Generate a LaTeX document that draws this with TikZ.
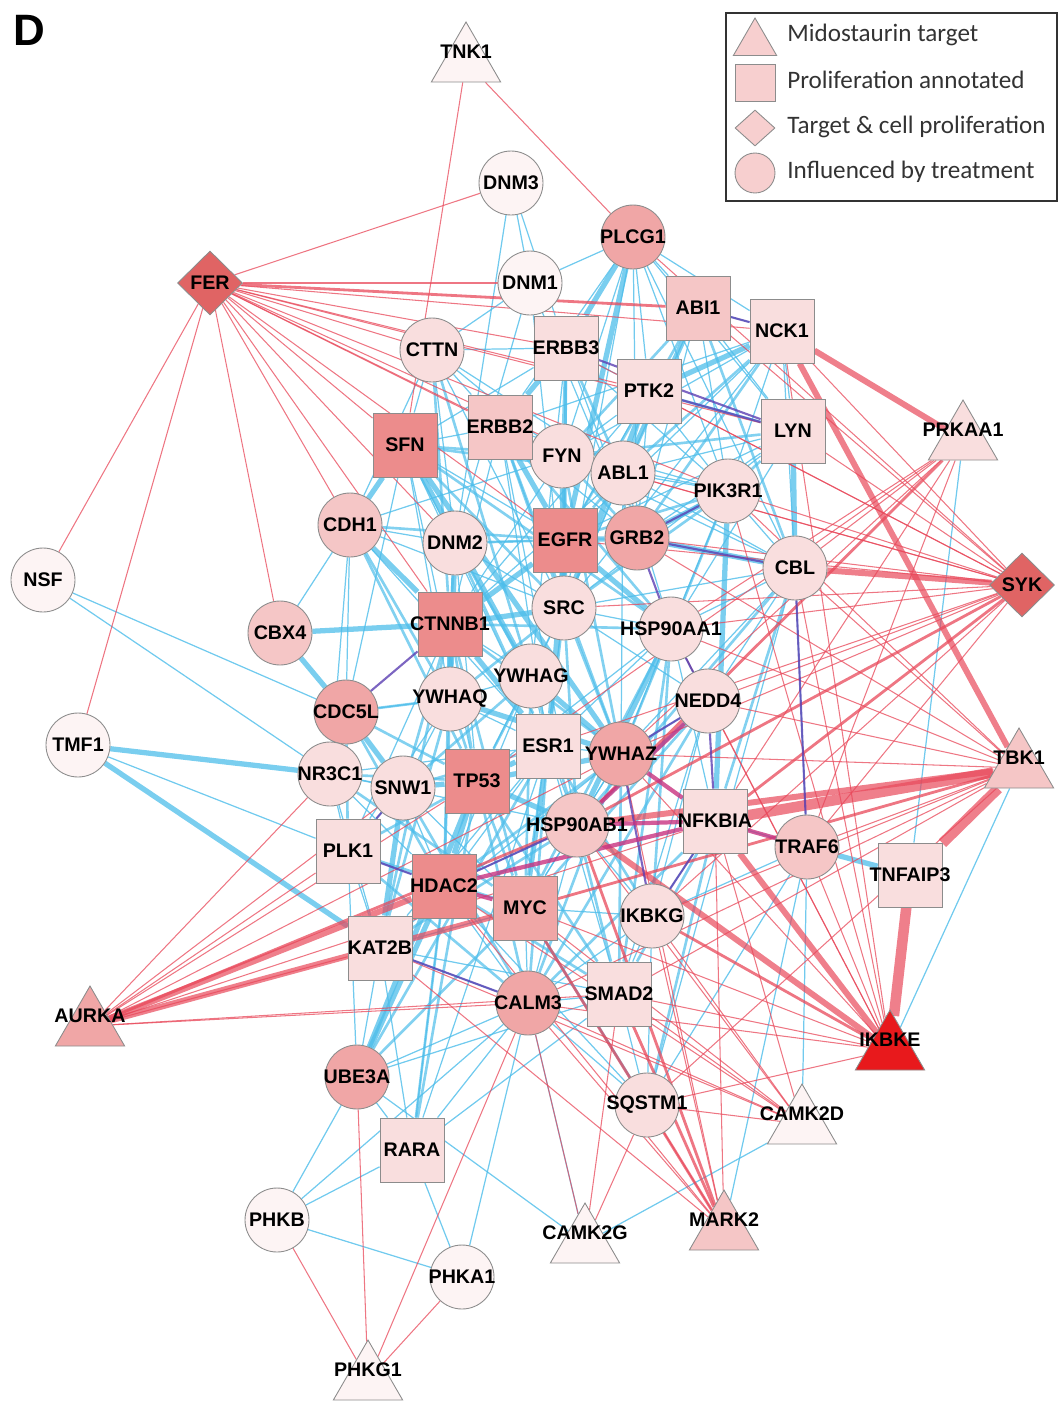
\documentclass[tikz,border=0pt]{standalone}
\usepackage{fontspec}
\setmainfont{Liberation Sans}
\newfontfamily\legendfont{Carlito}
\usetikzlibrary{shapes.geometric}
\pgfdeclarelayer{background}
\pgfsetlayers{background,main}

\definecolor{edgered}{HTML}{E8485A}
\definecolor{edgeblue}{HTML}{4DBDEA}
\definecolor{edgepurple}{HTML}{5B3FB2}
\definecolor{edgemagenta}{HTML}{C8327F}
\definecolor{nodeA}{HTML}{FDF4F4}
\definecolor{nodeB}{HTML}{F9DEDE}
\definecolor{nodeC}{HTML}{F5C6C6}
\definecolor{nodeD}{HTML}{F0A6A6}
\definecolor{nodeE}{HTML}{EC8C8C}
\definecolor{nodeF}{HTML}{E06464}
\definecolor{nodeG}{HTML}{E8191C}
\definecolor{legendfill}{HTML}{F7CFCF}

\begin{document}
\begin{tikzpicture}[x=0.02cm, y=-0.02cm,
    circ/.style={circle, draw=black!45, line width=0.5pt, minimum size=1.28cm, inner sep=0pt},
    sq/.style={rectangle, draw=black!45, line width=0.5pt, minimum size=1.28cm, inner sep=0pt},
    dia/.style={diamond, draw=black!45, line width=0.5pt, minimum width=1.3cm, minimum height=1.28cm, inner sep=0pt},
    tri/.style={regular polygon, regular polygon sides=3, draw=black!45, line width=0.5pt, minimum size=1.6cm, inner sep=0pt},
    lbl/.style={font=\fontsize{11.2}{12}\selectfont\bfseries, inner sep=0pt, text=black},
    lgtext/.style={font=\legendfont\fontsize{14.3}{15}\selectfont, text=black!80, inner sep=0pt, anchor=west},
    bthin/.style={draw=edgeblue, draw opacity=0.8, line width=0.7pt},
    bmid/.style={draw=edgeblue, draw opacity=0.7, line width=1.5pt},
    bthick/.style={draw=edgeblue, draw opacity=0.75, line width=3pt},
    rthin/.style={draw=edgered, draw opacity=0.75, line width=0.6pt},
    rmid/.style={draw=edgered, draw opacity=0.75, line width=1.6pt},
    rthick/.style={draw=edgered, draw opacity=0.7, line width=3.4pt},
    rhuge/.style={draw=edgered, draw opacity=0.7, line width=6pt},
    pline/.style={draw=edgepurple, draw opacity=0.8, line width=1.2pt},
    mline/.style={draw=edgemagenta, draw opacity=0.8, line width=2.4pt}]

    % fix the page to the size of the figure
    \useasboundingbox (0,0) rectangle (1061,1403);

    % panel letter
    \node[font=\fontsize{25}{25}\selectfont\bfseries, inner sep=0pt] (panel) at (29,30) {D};

    % proteins influenced by treatment (circles)
    \foreach \n/\x/\y/\c in {
        DNM3/511/183/nodeA, PLCG1/633/237/nodeD, DNM1/530/283/nodeA,
        CTTN/432/350/nodeB, FYN/562/456/nodeB, ABL1/623/473/nodeB,
        PIK3R1/728/491/nodeB, CDH1/350/525/nodeC, DNM2/455/543/nodeB,
        GRB2/637/538/nodeD, CBL/795/568/nodeB, NSF/43/580/nodeA,
        CBX4/280/633/nodeC, SRC/564/608/nodeB, HSP90AA1/671/629/nodeB,
        YWHAG/531/676/nodeB, YWHAQ/450/699/nodeB, CDC5L/346/712/nodeD,
        NEDD4/708/701/nodeB, TMF1/78/745/nodeA, YWHAZ/621/754/nodeD,
        NR3C1/330/774/nodeB, SNW1/403/788/nodeB, HSP90AB1/577/825/nodeC,
        TRAF6/807/847/nodeC, IKBKG/652/916/nodeB, CALM3/528/1003/nodeD,
        UBE3A/357/1077/nodeD, SQSTM1/647/1105/nodeB, PHKB/277/1220/nodeA,
        PHKA1/462/1277/nodeA}{
        \node[circ, fill=\c, label={[lbl]center:\n}] (\n) at (\x,\y) {};
    }

    % proliferation annotated (squares)
    \foreach \n/\x/\y/\c in {
        ABI1/698/308/nodeC, ERBB3/566/348/nodeB, NCK1/782/331/nodeB,
        PTK2/649/391/nodeB, LYN/793/431/nodeB, SFN/405/445/nodeE,
        ERBB2/500/427/nodeC, EGFR/565/540/nodeE, CTNNB1/450/624/nodeE,
        ESR1/548/746/nodeB, TP53/477/781/nodeE, NFKBIA/715/821/nodeB,
        PLK1/348/851/nodeB, HDAC2/444/886/nodeE, MYC/525/908/nodeD,
        TNFAIP3/910/875/nodeB, KAT2B/380/948/nodeB, SMAD2/619/994/nodeB,
        RARA/412/1150/nodeB}{
        \node[sq, fill=\c, label={[lbl]center:\n}] (\n) at (\x,\y) {};
    }

    % target and proliferation (diamonds)
    \foreach \n/\x/\y in {FER/210/283, SYK/1022/585}{
        \node[dia, fill=nodeF, label={[lbl]center:\n}] (\n) at (\x,\y) {};
    }

    % midostaurin targets (triangles), label at mid height
    \foreach \n/\x/\y/\c in {
        TNK1/466/52/nodeA, PRKAA1/963/430/nodeB, TBK1/1019/758/nodeC,
        AURKA/90/1016/nodeD, IKBKE/890/1040/nodeG, CAMK2D/802/1114/nodeA,
        MARK2/724/1220/nodeC, CAMK2G/585/1233/nodeA, PHKG1/368/1370/nodeA}{
        \node[tri, fill=\c, label={[lbl, yshift=0.2cm]center:\n}] (\n) at (\x,\y+10) {};
    }

    \begin{pgfonlayer}{background}
    % thin blue interactions
    \foreach \a/\b in {
        PLCG1/ABI1, PLCG1/NCK1, PLCG1/PTK2, PLCG1/GRB2, PLCG1/SRC, PLCG1/CBL,
        PLCG1/LYN, PLCG1/ERBB2, PLCG1/DNM1, PLCG1/FYN, PLCG1/PIK3R1, DNM3/DNM1,
        DNM3/ERBB3, DNM3/DNM2, DNM1/DNM2, DNM1/CTTN, DNM1/GRB2, DNM1/SRC,
        CTTN/SRC, CTTN/SFN, CTTN/ERBB2, CTTN/ABL1, CTTN/FYN, CTTN/DNM2,
        CTTN/CDH1, CTTN/ERBB3, ERBB3/PTK2, ERBB3/PIK3R1, ERBB3/GRB2, ERBB3/SFN,
        ERBB3/YWHAG, ABI1/NCK1, ABI1/SRC, ABI1/LYN, ABI1/PIK3R1, ABI1/GRB2,
        NCK1/EGFR, NCK1/CBL, NCK1/ERBB2, NCK1/PIK3R1, NCK1/FYN, NCK1/SRC,
        NCK1/LYN, LYN/SRC, LYN/EGFR, LYN/GRB2, LYN/HSP90AA1, LYN/ABL1,
        PTK2/FYN, PTK2/GRB2, PTK2/EGFR, PTK2/CTNNB1, PTK2/PIK3R1, SFN/ERBB2,
        SFN/DNM2, SFN/YWHAQ, SFN/EGFR, SFN/ESR1, SFN/CDC5L, SFN/TP53,
        ERBB2/FYN, ERBB2/GRB2, ERBB2/PIK3R1, ERBB2/CTNNB1, ERBB2/ESR1, ERBB2/HSP90AB1,
        FYN/ABL1, FYN/PIK3R1, FYN/CBL, FYN/CTNNB1, FYN/CDH1, ABL1/PIK3R1,
        ABL1/CBL, ABL1/CTNNB1, ABL1/YWHAZ, ABL1/HSP90AA1, PIK3R1/CBL, PIK3R1/HSP90AA1,
        CDH1/DNM2, CDH1/CDC5L, CDH1/CBX4, CDH1/SRC, CDH1/ESR1, CDH1/NR3C1,
        DNM2/SRC, DNM2/GRB2, DNM2/TP53, CBL/HSP90AA1, CBL/NEDD4, CBL/YWHAZ,
        CBL/TRAF6, CBL/SQSTM1, CBL/SRC, SRC/HSP90AA1, SRC/YWHAG, SRC/NEDD4,
        SRC/MYC, SRC/TP53, HSP90AA1/NEDD4, HSP90AA1/YWHAZ, HSP90AA1/TP53, HSP90AA1/NFKBIA,
        HSP90AA1/ESR1, YWHAG/YWHAQ, YWHAG/ESR1, YWHAG/CTNNB1, YWHAG/HDAC2, YWHAQ/CDC5L,
        YWHAQ/SNW1, YWHAQ/ESR1, YWHAQ/PLK1, NEDD4/YWHAZ, NEDD4/IKBKG, NEDD4/SMAD2,
        ESR1/YWHAZ, ESR1/HSP90AB1, ESR1/HDAC2, ESR1/KAT2B, ESR1/NR3C1, ESR1/SMAD2,
        YWHAZ/HSP90AB1, YWHAZ/MYC, YWHAZ/KAT2B, NR3C1/SNW1, NR3C1/PLK1, NR3C1/HDAC2,
        NR3C1/KAT2B, NR3C1/HSP90AB1, SNW1/PLK1, SNW1/HDAC2, SNW1/MYC, HSP90AB1/MYC,
        HSP90AB1/IKBKG, HSP90AB1/HDAC2, HSP90AB1/CALM3, PLK1/HDAC2, PLK1/KAT2B, PLK1/UBE3A,
        PLK1/CTNNB1, HDAC2/KAT2B, HDAC2/CALM3, MYC/CALM3, MYC/SMAD2, MYC/IKBKG,
        MYC/KAT2B, KAT2B/CALM3, KAT2B/SMAD2, KAT2B/UBE3A, KAT2B/RARA, CALM3/SMAD2,
        CALM3/IKBKG, CALM3/UBE3A, CALM3/SQSTM1, CALM3/RARA, CALM3/PHKB, CALM3/PHKA1,
        CALM3/CAMK2G, SMAD2/SQSTM1, SMAD2/IKBKG, IKBKG/NFKBIA, IKBKG/TRAF6, NFKBIA/TRAF6,
        TRAF6/SQSTM1, UBE3A/PHKB, UBE3A/RARA, UBE3A/SMAD2, RARA/PHKA1, RARA/HDAC2,
        RARA/ESR1, RARA/SMAD2, PHKB/PHKA1, PHKB/RARA, CAMK2G/CAMK2D, CAMK2G/UBE3A,
        SQSTM1/IKBKG, SQSTM1/HDAC2, SQSTM1/MYC, NSF/CDC5L, NSF/NR3C1, TMF1/PLK1,
        PRKAA1/TNFAIP3, TBK1/IKBKE, MARK2/TRAF6, CAMK2D/TRAF6}{
        \draw[bthin] (\a) -- (\b);
    }

    % medium blue interactions in the core
    \foreach \a/\b in {
        CTTN/CTNNB1, CTTN/YWHAG, SFN/SRC, SFN/HSP90AA1, SFN/ABL1, SFN/FYN,
        ERBB2/SRC, ERBB2/YWHAZ, ERBB2/HSP90AA1, ERBB3/SRC, ERBB3/EGFR, ERBB3/FYN,
        ERBB3/ABL1, PTK2/ABL1, PTK2/LYN, ABI1/EGFR, ABI1/CBL, ABI1/FYN,
        NCK1/GRB2, NCK1/ABL1, LYN/FYN, LYN/PIK3R1, FYN/GRB2, FYN/EGFR,
        FYN/YWHAZ, ABL1/SRC, ABL1/EGFR, ABL1/GRB2, PIK3R1/SRC, PIK3R1/EGFR,
        PIK3R1/YWHAZ, CBL/HSP90AB1, CBL/NFKBIA, CDH1/YWHAQ, CDH1/TP53, CDH1/EGFR,
        DNM2/CTNNB1, DNM2/EGFR, DNM2/YWHAG, DNM2/ESR1, CTNNB1/YWHAZ, CTNNB1/TP53,
        CTNNB1/HSP90AA1, CTNNB1/SNW1, CTNNB1/MYC, CTNNB1/HDAC2, CTNNB1/KAT2B, SRC/ESR1,
        SRC/YWHAZ, SRC/HSP90AB1, SRC/YWHAQ, HSP90AA1/MYC, HSP90AA1/IKBKG, HSP90AA1/SMAD2,
        YWHAG/TP53, YWHAG/HSP90AB1, YWHAG/MYC, YWHAG/SNW1, YWHAQ/TP53, YWHAQ/HDAC2,
        YWHAQ/KAT2B, CDC5L/YWHAQ, CDC5L/TP53, CDC5L/PLK1, CDC5L/HDAC2, NEDD4/HSP90AB1,
        NEDD4/MYC, NEDD4/CALM3, ESR1/CALM3, ESR1/IKBKG, YWHAZ/HDAC2, YWHAZ/CALM3,
        YWHAZ/SMAD2, NR3C1/TP53, NR3C1/MYC, SNW1/ESR1, SNW1/CALM3, TP53/MYC,
        TP53/CALM3, TP53/SMAD2, TP53/PLK1, TP53/RARA, HSP90AB1/SMAD2, HSP90AB1/KAT2B,
        PLK1/MYC, PLK1/CALM3, HDAC2/SMAD2, HDAC2/RARA, MYC/UBE3A, MYC/SQSTM1,
        UBE3A/ESR1, SQSTM1/NFKBIA, SMAD2/NFKBIA, CALM3/NFKBIA}{
        \draw[bmid] (\a) -- (\b);
    }

    % strong blue interactions
    \foreach \a/\b in {
        EGFR/GRB2, EGFR/ERBB2, EGFR/SRC, EGFR/PLCG1, EGFR/ESR1, EGFR/CTNNB1,
        GRB2/PIK3R1, GRB2/CBL, SRC/PTK2, SRC/FYN, SRC/CTNNB1, TP53/HDAC2,
        TP53/HSP90AB1, TP53/ESR1, TP53/SNW1, TP53/YWHAZ, CTNNB1/CDH1, CTNNB1/CBX4,
        CTNNB1/YWHAQ, CTNNB1/ESR1, YWHAZ/YWHAG, SFN/YWHAZ, SFN/YWHAG, HSP90AA1/HSP90AB1,
        CDC5L/CBX4, CDC5L/SNW1, TMF1/NR3C1, TMF1/KAT2B, UBE3A/TP53, UBE3A/HDAC2,
        PLCG1/ERBB3, LYN/CBL, PIK3R1/NFKBIA, TRAF6/TNFAIP3, ABI1/ABL1, NCK1/PTK2,
        ERBB2/ERBB3, ESR1/MYC, KAT2B/SNW1, CDH1/SFN, DNM2/YWHAQ, EGFR/HSP90AA1,
        YWHAQ/YWHAZ}{
        \draw[bthick] (\a) -- (\b);
    }

    % thin red interactions
    \foreach \a/\b in {
        FER/DNM3, FER/CTTN, FER/ERBB3, FER/NCK1, FER/PTK2, FER/SFN,
        FER/ERBB2, FER/FYN, FER/DNM2, FER/CTNNB1, FER/CDH1, FER/CBX4,
        FER/NSF, FER/TMF1, FER/EGFR, FER/LYN, FER/PIK3R1, FER/ABL1,
        TNK1/SFN, TNK1/PLCG1, SYK/NCK1, SYK/ABI1, SYK/PTK2, SYK/ERBB3,
        SYK/LYN, SYK/PIK3R1, SYK/GRB2, SYK/FYN, SYK/EGFR, SYK/SRC,
        SYK/HSP90AA1, SYK/NEDD4, SYK/YWHAZ, SYK/ESR1, SYK/TRAF6, SYK/IKBKG,
        SYK/PLCG1, SYK/ABL1, PRKAA1/YWHAZ, PRKAA1/HSP90AA1, PRKAA1/TP53, PRKAA1/NFKBIA,
        PRKAA1/CBL, PRKAA1/TRAF6, TBK1/TRAF6, TBK1/IKBKG, TBK1/NEDD4, TBK1/HSP90AA1,
        TBK1/PIK3R1, TBK1/CBL, TBK1/SMAD2, TBK1/CALM3, TBK1/YWHAZ, TBK1/SQSTM1,
        TBK1/GRB2, IKBKE/TRAF6, IKBKE/SMAD2, IKBKE/CALM3, IKBKE/NCK1, IKBKE/PIK3R1,
        IKBKE/CBL, IKBKE/NEDD4, IKBKE/YWHAZ, IKBKE/HSP90AA1, IKBKE/SQSTM1, IKBKE/MYC,
        AURKA/KAT2B, AURKA/PLK1, AURKA/NR3C1, AURKA/CALM3, AURKA/SNW1, AURKA/NFKBIA,
        AURKA/SMAD2, AURKA/YWHAZ, AURKA/TP53, MARK2/SQSTM1, MARK2/CALM3, MARK2/YWHAZ,
        MARK2/NFKBIA, MARK2/HDAC2, MARK2/KAT2B, MARK2/IKBKG, CAMK2D/CALM3, CAMK2D/SMAD2,
        CAMK2D/SQSTM1, CAMK2D/IKBKG, CAMK2D/HSP90AB1, CAMK2D/NFKBIA, CAMK2D/MYC, CAMK2D/KAT2B,
        CAMK2D/HDAC2, CAMK2G/CALM3, CAMK2G/SQSTM1, CAMK2G/SMAD2, PHKG1/PHKB, PHKG1/UBE3A,
        PHKG1/CALM3, PHKG1/PHKA1}{
        \draw[rthin] (\a) -- (\b);
    }

    % medium red interactions
    \foreach \a/\b in {
        FER/DNM1, FER/ABI1, SYK/HSP90AB1, SYK/NFKBIA, MARK2/SMAD2, MARK2/MYC,
        MARK2/HSP90AB1, IKBKE/IKBKG, AURKA/HSP90AB1, TBK1/MYC, PRKAA1/HSP90AB1}{
        \draw[rmid] (\a) -- (\b);
    }

    % strong red interactions
    \foreach \a/\b in {
        SYK/CBL, NCK1/PRKAA1, NCK1/TBK1, TBK1/HSP90AB1, IKBKE/HSP90AB1,
        IKBKE/NFKBIA, AURKA/HDAC2, AURKA/MYC}{
        \draw[rthick] (\a) -- (\b);
    }
    \foreach \a/\b in {TBK1/NFKBIA, IKBKE/TNFAIP3, TBK1/TNFAIP3}{
        \draw[rhuge] (\a) -- (\b);
    }

    % mixed interactions
    \foreach \a/\b in {
        ABI1/NCK1, PTK2/LYN, ERBB3/LYN, GRB2/HSP90AA1, HSP90AA1/NEDD4, NEDD4/YWHAZ,
        CDC5L/CTNNB1, SNW1/PLK1, HSP90AB1/HDAC2, GRB2/CBL, PIK3R1/GRB2, CBL/TRAF6,
        KAT2B/CALM3, IKBKG/NFKBIA, NEDD4/NFKBIA, PLK1/HDAC2, YWHAZ/IKBKG}{
        \draw[pline] (\a) -- (\b);
    }
    \foreach \a/\b in {
        HSP90AB1/NFKBIA, HDAC2/MYC, HDAC2/NFKBIA, NFKBIA/TRAF6, YWHAZ/NFKBIA, HSP90AB1/NEDD4}{
        \draw[mline] (\a) -- (\b);
    }
    \end{pgfonlayer}

    % legend
    \node[draw=black!80, line width=1.2pt, minimum width=6.62cm, minimum height=3.76cm,
          inner sep=0pt, anchor=north west] (legend) at (725,12) {};
    \node[tri, fill=legendfill, minimum size=1.0cm] (lgtarget) at (755,43) {};
    \node[sq, fill=legendfill, minimum width=0.8cm, minimum height=0.74cm] (lgprolif) at (755,83) {};
    \node[dia, fill=legendfill, minimum width=0.8cm, minimum height=0.72cm] (lgboth) at (755,128) {};
    \node[circ, fill=legendfill, minimum size=0.8cm] (lgtreat) at (755,173) {};
    \node[lgtext] (lgtargettxt) at (787,35) {Midostaurin target};
    \node[lgtext] (lgprioltxt) at (787,80) {Proliferation annotated};
    \node[lgtext] (lgbothtxt) at (787,127) {Target \& cell proliferation};
    \node[lgtext] (lgtreattxt) at (787,172) {Influenced by treatment};
\end{tikzpicture}
\end{document}
